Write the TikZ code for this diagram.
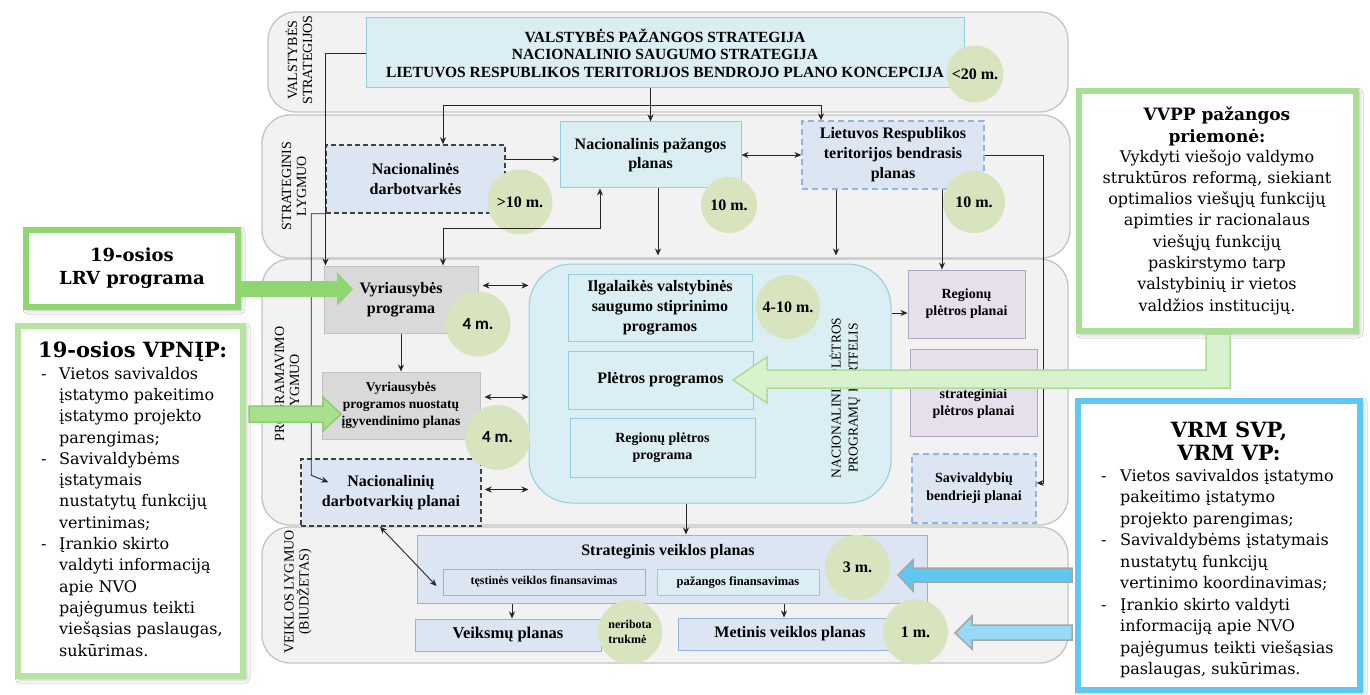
\documentclass[tikz,border=0pt]{standalone}
\usepackage{fontspec}
\setmainfont{Liberation Serif}
\newfontfamily\geo{DejaVu Serif}
\newfontfamily\carl{Carlito}
\usetikzlibrary{arrows.meta,shadows.blur,calc}
\definecolor{bandfill}{HTML}{F2F2F2}
\definecolor{bandline}{HTML}{C4C4C4}
\definecolor{cyanfill}{HTML}{DAEEF3}
\definecolor{cyanline}{HTML}{92CDDC}
\definecolor{bluefill}{HTML}{DCE6F2}
\definecolor{blueline}{HTML}{95B3D7}
\definecolor{dashblue}{HTML}{8EB4E3}
\definecolor{darkdash}{HTML}{404040}
\definecolor{grayfill}{HTML}{D9D9D9}
\definecolor{grayline}{HTML}{C0C0C0}
\definecolor{purplefill}{HTML}{E6E0EC}
\definecolor{purpleline}{HTML}{B3A2C7}
\definecolor{circfill}{HTML}{D7E4BD}
\definecolor{greenA}{RGB}{143,214,112}
\definecolor{greenB}{RGB}{181,228,160}
\definecolor{greenBf}{RGB}{168,224,142}
\definecolor{greenBd}{RGB}{140,205,110}
\definecolor{greenC}{RGB}{170,222,150}
\definecolor{greenCf}{RGB}{216,242,206}
\definecolor{skyA}{RGB}{95,200,240}
\definecolor{skyB}{RGB}{150,218,245}
\definecolor{arrgray}{RGB}{165,165,165}
\newcommand\fs[2]{\fontsize{#1}{#2}\selectfont}
\tikzset{
  band/.style={draw=bandline, fill=bandfill, line width=1.3pt, rounded corners=28pt, inner sep=0pt},
  blbl/.style={rotate=90, align=center, inner sep=0pt, font=\fs{14}{15}},
  box/.style={draw, line width=1pt, inner sep=1pt, align=center, font=\bfseries\fs{16}{19.5}},
  cy/.style={box, draw=cyanline, fill=cyanfill},
  bl/.style={box, draw=blueline, fill=bluefill},
  gr/.style={box, draw=grayline, fill=grayfill},
  pu/.style={box, draw=purpleline, fill=purplefill},
  dd/.style={box, draw=darkdash, fill=bluefill, dash pattern=on 5pt off 3pt, line width=1.5pt},
  ld/.style={box, draw=dashblue, fill=bluefill, dash pattern=on 6pt off 4pt, line width=1.3pt},
  circ/.style={circle, fill=circfill, inner sep=0pt, align=center, font=\bfseries\fs{16}{18}},
  con/.style={draw=black!85, line width=0.9pt},
  arr/.style={con, -{Stealth[length=7pt,width=6pt]}},
  darr/.style={con, {Stealth[length=7pt,width=6pt]}-{Stealth[length=7pt,width=6pt]}},
  side/.style={fill=white, line width=6pt, inner sep=0pt,
    blur shadow={shadow xshift=2pt, shadow yshift=-2pt, shadow blur radius=5pt, shadow opacity=45}},
  fat/.style={line width=1.5pt, line join=miter}
}
\begin{document}
\begin{tikzpicture}[x=1pt,y=-1pt]
\useasboundingbox (0,0) rectangle (1370,695);
\fill[white] (0,0) rectangle (1370,695);

% bands
\node[band, minimum width=800pt, minimum height=100pt] (b1) at (668,62) {};
\node[band, minimum width=808pt, minimum height=143pt] (b2) at (666,186.5) {};
\node[band, minimum width=806pt, minimum height=266pt] (b3) at (665,392) {};
\node[band, minimum width=806pt, minimum height=136pt] (b4) at (665,595) {};
\node[blbl] (l1) at (299,60) {VALSTYBĖS\\STRATEGIJOS};
\node[blbl] (l2) at (294,186) {STRATEGINIS\\LYGMUO};
\node[blbl] (l3) at (287,384) {PROGRAMAVIMO\\LYGMUO};
\node[blbl] (l4) at (298,592) {VEIKLOS LYGMUO\\(BIUDŽETAS)};

% state strategies
\node[cy, minimum width=598pt, minimum height=70pt, font=\bfseries\fs{15.5}{17.5}] (top) at (665,53)
  {VALSTYBĖS PAŽANGOS STRATEGIJA\\NACIONALINIO SAUGUMO STRATEGIJA\\LIETUVOS RESPUBLIKOS TERITORIJOS BENDROJO PLANO KONCEPCIJA};

% strategic level
\node[dd, minimum width=179pt, minimum height=68pt] (nd) at (415.5,179) {Nacionalinės\\darbotvarkės};
\node[cy, minimum width=181pt, minimum height=66pt] (npp) at (650.5,155) {Nacionalinis pažangos\\planas};
\node[ld, minimum width=182pt, minimum height=68pt, font=\bfseries\fs{16}{20}] (lrt) at (893,155) {Lietuvos Respublikos\\teritorijos bendrasis\\planas};

% programming level
\node[gr, minimum width=154pt, minimum height=67pt] (vp) at (401,299.5) {Vyriausybės\\programa};
\node[gr, minimum width=158pt, minimum height=67pt, font=\bfseries\fs{13.5}{17}] (vpn) at (401,405.5) {Vyriausybės\\programos nuostatų\\įgyvendinimo planas};
\node[dd, minimum width=180pt, minimum height=67pt] (ndp) at (391,492.5) {Nacionalinių\\darbotvarkių planai};
\node[cy, minimum width=362pt, minimum height=239pt, rounded corners=43pt] (port) at (710,383.5) {};
\node[cy, minimum width=184pt, minimum height=67pt, font=\bfseries\fs{16}{20}] (ilg) at (660,307.5) {Ilgalaikės valstybinės\\saugumo stiprinimo\\programos};
\node[cy, minimum width=185pt, minimum height=58pt] (plet) at (660.5,380) {Plėtros programos};
\node[cy, minimum width=185pt, minimum height=59pt, font=\bfseries\fs{14}{17}] (rpp) at (662.5,447.5) {Regionų plėtros\\programa};
\node[rotate=90, align=center, inner sep=0pt, font=\fs{13.5}{17}] (pl) at (845,398) {NACIONALINIŲ PLĖTROS\\PROGRAMŲ PORTFELIS};
\node[pu, minimum width=117pt, minimum height=68pt, font=\bfseries\fs{14}{17}] (rpl) at (966.5,304) {Regionų\\plėtros planai};
\node[pu, minimum width=127pt, minimum height=87pt] (spp) at (973.5,392.5) {};
\node[align=center, inner sep=0pt, font=\bfseries\fs{14}{17}] (sppt) at (973.5,404) {strateginiai\\plėtros planai};
\node[ld, minimum width=124pt, minimum height=69pt, font=\bfseries\fs{14}{18}] (sbp) at (974,488.5) {Savivaldybių\\bendrieji planai};

% activity level
\node[bl, minimum width=510pt, minimum height=68pt] (svp) at (672,569) {};
\node[inner sep=0pt, font=\bfseries\fs{16}{18}] (svpt) at (668,552) {Strateginis veiklos planas};
\node[bl, minimum width=202pt, minimum height=26pt, font=\bfseries\fs{12}{14}] (tvf) at (544,582) {tęstinės veiklos finansavimas};
\node[cy, minimum width=162pt, minimum height=26pt, font=\bfseries\fs{12.5}{14}] (pf) at (738,582) {pažangos finansavimas};
\node[bl, minimum width=186pt, minimum height=32pt, font=\bfseries\fs{16.5}{18}] (vpl) at (508,635) {Veiksmų planas};
\node[bl, minimum width=212pt, minimum height=32pt] (mvp) at (784,634) {\hspace*{12pt}Metinis veiklos planas};

% circles
\node[circ, minimum size=57pt] (c20) at (975,74) {<20 m.};
\node[circ, minimum size=65pt] (c10a) at (520,202) {>10 m.};
\node[circ, minimum size=56pt] (c10b) at (729,205) {10 m.};
\node[circ, minimum size=62pt] (c10c) at (974,202) {10 m.};
\node[circ, minimum size=65pt, font=\carl\bfseries\fs{17}{18}] (c4a) at (478,324) {4 m.};
\node[circ, minimum size=65pt, font=\carl\bfseries\fs{17}{18}] (c4b) at (497.5,437.5) {4 m.};
\node[circ, minimum size=64pt] (c410) at (788,307) {4-10 m.};
\node[circ, minimum size=65pt] (c3) at (857.5,567.5) {3 m.};
\node[circ, minimum size=64pt, align=left, font=\bfseries\fs{12}{15}] (cn) at (630,632) {neribota\\trukmė};
\node[circ, minimum size=65pt] (c1) at (915.5,632) {1 m.};

% connectors
\draw[arr] (top.west) -| ([xshift=2pt]vp.north west);
\draw[arr] (nd.south west) -- ++(-14,0) -- ([xshift=11pt,yshift=-17pt]ndp.north west) -- ([xshift=28pt,yshift=-24pt]ndp.north west);
\draw[arr] (top.south -| npp.north) -- (npp.north);
\coordinate (br) at ($(top.south -| npp.north)+(0,17)$);
\draw[arr] (br) -| ([xshift=27.5pt]nd.north);
\draw[arr] (br) -| ([xshift=-72pt]lrt.north);
\draw[arr] ([yshift=20pt]nd.east) -- ([yshift=20pt]nd.east -| npp.west);
\draw[darr] (npp.east) -- (lrt.west);
\draw[darr] ([xshift=42pt]vp.north) |- ([xshift=-50.5pt,yshift=-40pt]npp.south) -- ([xshift=-50.5pt]npp.south);
\draw[arr, shorten >=8pt] ([xshift=7.5pt]npp.south) -- ([xshift=7.5pt]npp.south |- port.north);
\draw[arr, shorten >=8pt] ([xshift=-57pt]lrt.south) -- ([xshift=-57pt]lrt.south |- port.north);
\draw[arr] ([xshift=49pt]lrt.south) -- ([xshift=-24.5pt]rpl.north);
\draw[arr] (lrt.east) -- ++(59,0) |- ([yshift=5.5pt]sbp.east);
\draw[darr, shorten <=4pt] ([yshift=14pt]vp.east) -- ([yshift=14pt]vp.east -| port.west);
\draw[darr, shorten <=4pt] ([yshift=8.5pt]vpn.east) -- ([yshift=8.5pt]vpn.east -| port.west);
\draw[darr, shorten <=3pt] ([yshift=3pt]ndp.east) -- ([yshift=3pt]ndp.east -| port.west);
\draw[arr] (vp.south) -- (vpn.north);
\draw[arr] ([yshift=-9pt]rpl.west -| port.east) -- ([yshift=-9pt]rpl.west);
\draw[arr] ([xshift=-24pt]port.south) -- ([xshift=-24pt]port.south |- svp.north);
\draw[darr] ([xshift=-11pt]ndp.south) -- ([xshift=-6pt,yshift=-4pt]tvf.west);
\draw[arr] ([xshift=-32pt]tvf.south |- svp.south) -- ([xshift=-32pt]tvf.south |- vpl.north);
\draw[arr] ([xshift=46pt]pf.south |- svp.south) -- ([xshift=46pt]pf.south |- mvp.north);

% side boxes
\node[side, draw=greenA, minimum width=212pt, minimum height=77pt, align=center, font=\geo\bfseries\fs{18}{23}] (lrv) at (132,268.5) {19-osios\\LRV programa};
\node[side, draw=greenB, minimum width=225pt, minimum height=350pt] (vpnip) at (130.5,501) {};
\node[anchor=west, inner sep=0pt, font=\geo\bfseries\fs{21}{24}] (vt) at (38,352) {19-osios VPNĮP:};
\node[anchor=north west, inner sep=0pt, font=\geo\fs{16}{21.3}] (vlist) at (41,364) {%
\begin{tabular}{@{}p{18pt}@{}l@{}}
-& Vietos savivaldos\\
 & įstatymo pakeitimo\\
 & įstatymo projekto\\
 & parengimas;\\
-& Savivaldybėms\\
 & įstatymais\\
 & nustatytų funkcijų\\
 & vertinimas;\\
-& Įrankio skirto\\
 & valdyti informaciją\\
 & apie NVO\\
 & pajėgumus teikti\\
 & viešąsias paslaugas,\\
 & sukūrimas.
\end{tabular}};

\node[side, draw=greenC, minimum width=277pt, minimum height=240pt] (vvpp) at (1217.5,211) {};
\node[align=center, inner sep=0pt, font=\geo\bfseries\fs{17}{22}] (vvt) at (1217,126) {VVPP pažangos\\priemonė:};
\node[align=center, inner sep=0pt, font=\geo\fs{16}{21.3}] (vvb) at (1217,232) {Vykdyti viešojo valdymo\\struktūros reformą, siekiant\\optimalios viešųjų funkcijų\\apimties ir racionalaus\\viešųjų funkcijų\\paskirstymo tarp\\valstybinių ir vietos\\valdžios institucijų.};

\node[side, draw=skyA, minimum width=282pt, minimum height=289pt] (vrm) at (1219,545.5) {};
\node[align=center, inner sep=0pt, font=\geo\bfseries\fs{21}{23}] (vrt) at (1229,441) {VRM SVP,\\VRM VP:};
\node[anchor=north west, inner sep=0pt, font=\geo\fs{16}{21.5}] (vrlist) at (1101,466) {%
\begin{tabular}{@{}p{19pt}@{}l@{}}
-& Vietos savivaldos įstatymo\\
 & pakeitimo įstatymo\\
 & projekto parengimas;\\
-& Savivaldybėms įstatymais\\
 & nustatytų funkcijų\\
 & vertinimo koordinavimas;\\
-& Įrankio skirto valdyti\\
 & informaciją apie NVO\\
 & pajėgumus teikti viešąsias\\
 & paslaugas, sukūrimas.
\end{tabular}};

% fat arrows
\fill[greenA] (lrv.east |- 0,281) -- (337,281) -- (337,272) -- (353,289) -- (337,306) -- (337,297) -- (lrv.east |- 0,297) -- cycle;
\filldraw[fat, fill=greenBf, draw=greenBd] ([xshift=3pt]vpnip.east |- 0,406) -- (323,406) -- (323,397) -- (341,414) -- (323,431) -- (323,422) -- ([xshift=3pt]vpnip.east |- 0,422) -- cycle;
\filldraw[fat, fill=greenCf, draw=greenC] (1206,334) -- (1230,334) -- (1230,388) -- (767,388) -- (767,403) -- (733,380) -- (767,357) -- (767,370) -- (1206,370) -- cycle;
\filldraw[fat, fill=skyA, draw=arrgray] ([xshift=-3pt]vrm.west |- 0,568) -- (913,568) -- (913,560) -- (898,575) -- (913,591) -- (913,582) -- ([xshift=-3pt]vrm.west |- 0,582) -- cycle;
\filldraw[fat, fill=skyB, draw=arrgray] ([xshift=-3pt]vrm.west |- 0,625) -- (972,625) -- (972,616) -- (955,633) -- (972,649) -- (972,640) -- ([xshift=-3pt]vrm.west |- 0,640) -- cycle;
\end{tikzpicture}
\end{document}
